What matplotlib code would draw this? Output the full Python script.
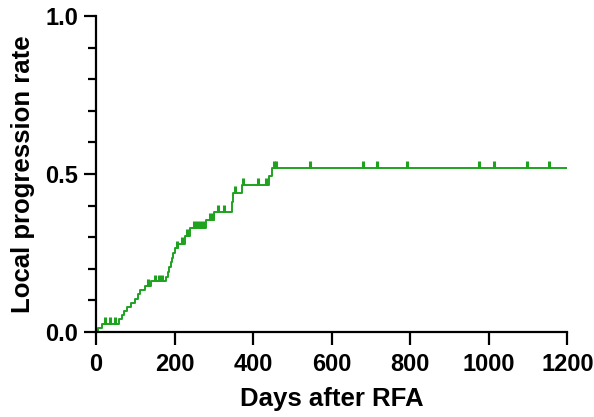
import numpy as np
import matplotlib.pyplot as plt
from matplotlib.ticker import MultipleLocator

plt.rcParams['font.family'] = ['Liberation Sans', 'DejaVu Sans']
plt.rcParams['font.weight'] = 'bold'

# event times (days) and cumulative local progression after each event
event_days = [5, 16, 58, 65, 72, 80, 90, 100, 108, 113, 125, 140, 178, 183, 187,
              190, 193, 197, 200, 210, 227, 240, 281, 300, 345, 350, 371, 440, 447]
event_rate = [0.013, 0.026, 0.040, 0.053, 0.066, 0.080, 0.093, 0.106, 0.120, 0.133,
              0.146, 0.160, 0.175, 0.190, 0.205, 0.220, 0.235, 0.250, 0.265, 0.280,
              0.305, 0.330, 0.354, 0.380, 0.410, 0.440, 0.465, 0.495, 0.520]
# censored observations
censor_days = [24, 36, 49, 133, 150, 160, 168, 205, 220, 232, 250, 258, 266, 273,
               290, 298, 310, 325, 355, 374, 413, 434, 452, 458, 544, 679, 715,
               791, 974, 1014, 1097, 1154]
last_day = 1198

green = '#1fa31f'

t = np.concatenate([[0], event_days, [last_day]])
r = np.concatenate([[0], event_rate, [event_rate[-1]]])

fig = plt.figure(figsize=(5.94, 4.17), dpi=100)
ax = fig.add_axes([0.1616, 0.2038, 0.7935, 0.7578])

ax.step(t, r, where='post', color=green, lw=1.4)

# censor ticks sit on top of the curve
idx = np.searchsorted(t, censor_days, side='right') - 1
cr = r[idx]
ax.vlines(censor_days, cr, cr + 0.022, color=green, lw=2.2)

ax.set_xlim(0, 1200)
ax.set_ylim(0, 1.0)
ax.set_xticks(np.arange(0, 1201, 200))
ax.set_yticks([0.0, 0.5, 1.0])
ax.yaxis.set_minor_locator(MultipleLocator(0.1))

for s in ['top', 'right']:
    ax.spines[s].set_visible(False)
for s in ['left', 'bottom']:
    ax.spines[s].set_linewidth(1.6)

ax.tick_params(which='major', length=9, width=1.6, labelsize=17, pad=4)
ax.tick_params(axis='x', pad=6)
ax.tick_params(which='minor', length=6, width=1.6)
for lab in ax.get_xticklabels() + ax.get_yticklabels():
    lab.set_fontweight('bold')

ax.set_xlabel('Days after RFA', fontsize=18.5, fontweight='bold', labelpad=8)
ax.set_ylabel('Local progression rate', fontsize=18.5, fontweight='bold', labelpad=7)

fig.savefig('out.png', dpi=100)
